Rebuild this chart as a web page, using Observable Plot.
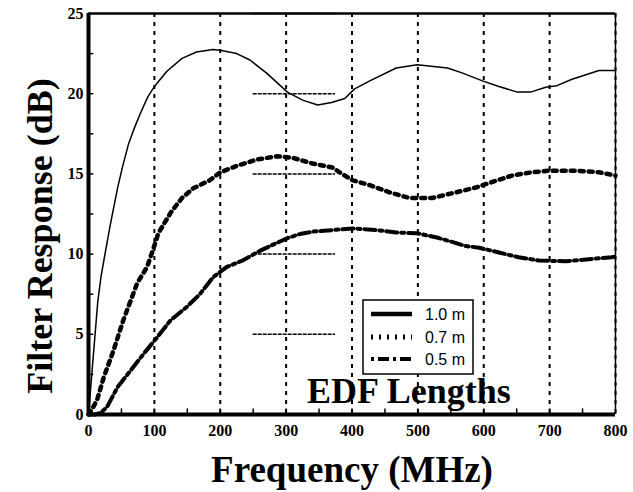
<!DOCTYPE html>
<html><head><meta charset="utf-8">
<script src="https://cdn.jsdelivr.net/npm/d3@7"></script>
<script src="https://cdn.jsdelivr.net/npm/@observablehq/plot@0.6"></script>
<style>html,body{margin:0;padding:0;background:#fff}</style>
</head><body><div id="chart"></div>
<script>
// ---- data ----
const seriesNames = ["1.0 m", "0.7 m", "0.5 m"];

const freq10 = [0,3,6,10,14,19,25,33,44,52,61,70,79,90,101,119,142,164,189,202,225,245,270,302,325,348,369,389,404,427,467,499,545,567,598,623,651,671,694,711,734,775,800];
const resp10 = [0,1.5,3,5,7,8.6,10,11.8,14.1,15.5,16.9,17.9,18.8,19.8,20.5,21.4,22.2,22.6,22.75,22.7,22.5,22.1,21.3,20.1,19.6,19.3,19.45,19.7,20.3,20.8,21.6,21.8,21.6,21.3,20.8,20.45,20.1,20.1,20.4,20.5,20.9,21.45,21.45];

const freq07 = [0,5,13,23,38,53,64,74,89,99,106,125,142,159,184,200,225,256,286,310,340,370,381,401,427,457,487,522,558,588,613,643,673,699,740,775,800];
const resp07 = [0,0.3,0.9,2.3,4.0,5.9,7.1,8.2,9.2,10.4,11.3,12.6,13.5,14.1,14.6,15.1,15.5,15.9,16.1,16.0,15.65,15.4,15.1,14.6,14.3,13.85,13.5,13.5,13.85,14.15,14.5,14.9,15.1,15.2,15.2,15.1,14.9];

const freq05 = [0,10,18,28,44,64,84,104,124,149,169,189,210,234,260,286,302,321,340,371,401,437,467,499,532,573,593,623,653,684,724,764,794,800];
const resp05 = [0,0,0.1,0.45,1.7,2.75,3.8,4.8,5.85,6.7,7.5,8.55,9.2,9.6,10.2,10.7,11.0,11.25,11.4,11.5,11.6,11.5,11.35,11.3,11.0,10.5,10.4,10.1,9.8,9.6,9.55,9.7,9.8,9.85];

const xTicks = [0,100,200,300,400,500,600,700,800];
const yTicks = [0,5,10,15,20,25];
const xMinor = [50,100,150,200,250,300,350,400,450,500,550,600,650,700,750];
const yMinor = [2.5,5,7.5,10,12.5,15,17.5,20,22.5];
const gridX = [100,200,300,400,500,600,700,800];
const stubY = [0,5,10,15,20,25];
const stubFrom = 250, stubTo = 375;

const xLabel = "Frequency (MHz)";
const yLabel = "Filter Response (dB)";
const noteText = "EDF Lengths";

// ---- build tables ----
const d10 = freq10.map((f, i) => ({f, r: resp10[i]}));
const d07 = freq07.map((f, i) => ({f, r: resp07[i]}));
const d05 = freq05.map((f, i) => ({f, r: resp05[i]}));

const serif = "'Liberation Serif', 'Times New Roman', serif";
const sans = "'Liberation Sans', Arial, sans-serif";

const plot = Plot.plot({
  width: 633,
  height: 492,
  marginLeft: 88,
  marginRight: 18,
  marginTop: 13,
  marginBottom: 78,
  style: {fontFamily: serif, background: "#fff", color: "#000"},
  x: {domain: [0, 800]},
  y: {domain: [0, 25]},
  marks: [
    Plot.ruleX(gridX, {stroke: "#000", strokeWidth: 2, strokeDasharray: "4,5"}),
    Plot.ruleY(stubY, {x1: stubFrom, x2: stubTo, stroke: "#000", strokeWidth: 1.5, strokeDasharray: "4,1"}),
    Plot.ruleY(yMinor, {x1: 0, x2: 8, stroke: "#000", strokeWidth: 1.5}),
    Plot.ruleX(xMinor, {y1: 0, y2: 0.35, stroke: "#000", strokeWidth: 1.5}),
    Plot.ruleY([25], {stroke: "#000", strokeWidth: 2.5}),
    Plot.ruleX([800], {stroke: "#000", strokeWidth: 1.5}),
    Plot.ruleX([0], {stroke: "#000", strokeWidth: 4}),
    Plot.ruleY([0], {stroke: "#000", strokeWidth: 4}),
    Plot.line(d05, {x: "f", y: "r", stroke: "#000", strokeWidth: 4, strokeDasharray: "11,4,3,4"}),
    Plot.line(d07, {x: "f", y: "r", stroke: "#000", strokeWidth: 4.5, strokeDasharray: "4,5"}),
    Plot.line(d10, {x: "f", y: "r", stroke: "#000", strokeWidth: 1.5}),
    Plot.axisX({ticks: xTicks, tickSize: 0, tickPadding: 10, fontSize: 16, fontWeight: "bold", fontFamily: serif, label: null}),
    Plot.axisY({ticks: yTicks, tickSize: 0, tickPadding: 5, fontSize: 16, fontWeight: "bold", fontFamily: serif, label: null})
  ]
});

document.getElementById("chart").appendChild(plot);

const svg = d3.select(plot);

svg.append("text")
  .attr("x", 352).attr("y", 482)
  .attr("text-anchor", "middle")
  .attr("font-family", serif).attr("font-weight", "bold").attr("font-size", 37)
  .attr("fill", "#000")
  .text(xLabel);

svg.append("text")
  .attr("transform", "translate(52,236) rotate(-90)")
  .attr("text-anchor", "middle")
  .attr("font-family", serif).attr("font-weight", "bold").attr("font-size", 36)
  .attr("fill", "#000")
  .text(yLabel);

svg.append("text")
  .attr("x", 307).attr("y", 403)
  .attr("text-anchor", "start")
  .attr("font-family", serif).attr("font-weight", "bold").attr("font-size", 36)
  .attr("fill", "#000")
  .text(noteText);

const lg = svg.append("g");
lg.append("rect").attr("x", 363).attr("y", 300).attr("width", 110).attr("height", 74)
  .attr("fill", "#fff").attr("stroke", "#000").attr("stroke-width", 1.5);
const legendStyles = [
  {w: 4.5, dash: null},
  {w: 5, dash: "2,6"},
  {w: 4, dash: "3,4,11,4"}
];
const legendY = [314, 337, 359];
seriesNames.forEach((name, i) => {
  lg.append("line").attr("x1", 371).attr("x2", 412)
    .attr("y1", legendY[i]).attr("y2", legendY[i])
    .attr("stroke", "#000").attr("stroke-width", legendStyles[i].w)
    .attr("stroke-dasharray", legendStyles[i].dash);
  lg.append("text").attr("x", 425).attr("y", legendY[i])
    .attr("dy", "0.35em")
    .attr("text-anchor", "start")
    .attr("font-family", sans).attr("font-size", 16).attr("fill", "#000")
    .text(name);
});
</script>
</body></html>
